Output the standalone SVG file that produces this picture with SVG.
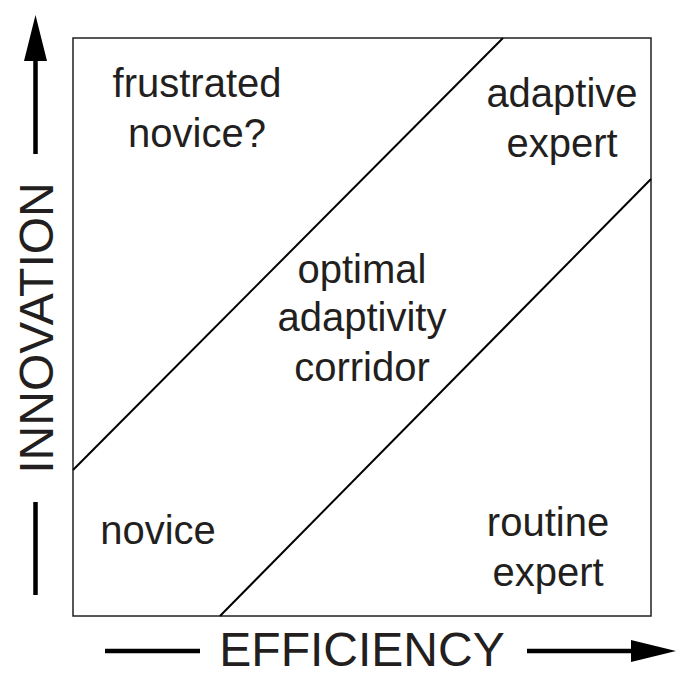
<svg xmlns="http://www.w3.org/2000/svg" width="696" height="695" viewBox="0 0 696 695">
<style>
.lbl{font-family:"Liberation Sans",Arial,sans-serif;font-size:40px;fill:#231f20;text-anchor:middle}
.ax{font-family:"Liberation Sans",Arial,sans-serif;font-size:48px;fill:#231f20;text-anchor:middle}
.frame{fill:none;stroke:#231f20;stroke-width:1.5}
.div{stroke:#000;stroke-width:2;fill:none}
.arr{stroke:#000;stroke-width:4.5;fill:none}
</style>
<rect width="696" height="695" fill="#fff"/>
<g id="frame"><rect class="frame" x="73" y="38" width="578" height="578"/></g>
<g id="connectors">
<line class="div" x1="73" y1="470" x2="503" y2="38"/>
<line class="div" x1="220" y1="616" x2="651" y2="179"/>
</g>
<g id="axis-y">
<line class="arr" x1="35.5" y1="60" x2="35.5" y2="154"/>
<polygon points="35.5,15 24,61 47,61" fill="#000"/>
<line class="arr" x1="35.5" y1="502" x2="35.5" y2="595"/>
<text class="ax" transform="translate(53,328) rotate(-90)">INNOVATION</text>
</g>
<g id="axis-x">
<line class="arr" x1="105" y1="651" x2="200" y2="651"/>
<line class="arr" x1="527" y1="651" x2="632" y2="651"/>
<polygon points="676,651 631,640 631,662" fill="#000"/>
<text class="ax" x="362" y="666">EFFICIENCY</text>
</g>
<g id="frustrated-novice"><text class="lbl" x="197" y="97">frustrated</text><text class="lbl" x="197" y="147">novice?</text></g>
<g id="adaptive-expert"><text class="lbl" x="562" y="107">adaptive</text><text class="lbl" x="562" y="157">expert</text></g>
<g id="corridor"><text class="lbl" x="362" y="283">optimal</text><text class="lbl" x="362" y="331">adaptivity</text><text class="lbl" x="362" y="381">corridor</text></g>
<g id="novice"><text class="lbl" x="158" y="544">novice</text></g>
<g id="routine-expert"><text class="lbl" x="548" y="536">routine</text><text class="lbl" x="548" y="586">expert</text></g>
</svg>
